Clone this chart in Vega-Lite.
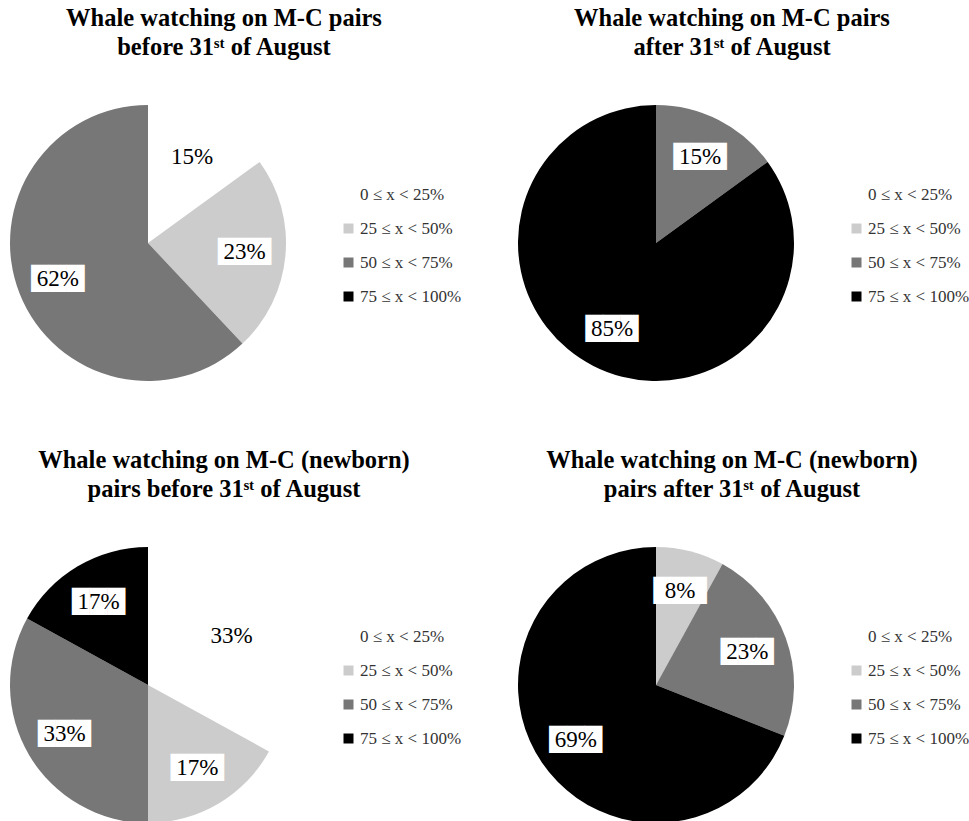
{
  "$schema": "https://vega.github.io/schema/vega-lite/v6.json",
  "padding": {"left": 10, "top": 5, "right": 0, "bottom": 0},
  "background": "white",
  "bounds": "flush",
  "datasets": {
    "pies": [
      {"panel": 1, "k": 0, "cat": "0 ≤ x < 25%", "value": 15},
      {"panel": 1, "k": 1, "cat": "25 ≤ x < 50%", "value": 23},
      {"panel": 1, "k": 2, "cat": "50 ≤ x < 75%", "value": 62},
      {"panel": 2, "k": 2, "cat": "50 ≤ x < 75%", "value": 15},
      {"panel": 2, "k": 3, "cat": "75 ≤ x < 100%", "value": 85},
      {"panel": 3, "k": 0, "cat": "0 ≤ x < 25%", "value": 33},
      {"panel": 3, "k": 1, "cat": "25 ≤ x < 50%", "value": 17},
      {"panel": 3, "k": 2, "cat": "50 ≤ x < 75%", "value": 33},
      {"panel": 3, "k": 3, "cat": "75 ≤ x < 100%", "value": 17},
      {"panel": 4, "k": 1, "cat": "25 ≤ x < 50%", "value": 8},
      {"panel": 4, "k": 2, "cat": "50 ≤ x < 75%", "value": 23},
      {"panel": 4, "k": 3, "cat": "75 ≤ x < 100%", "value": 69}
    ]
  },
  "columns": 2,
  "spacing": {"row": 166, "column": 232},
  "resolve": {"scale": {"color": "independent"}, "legend": {"color": "independent"}},
  "concat": [
    {
      "width": 276, "height": 276,
      "title": {"text": ["Whale watching on M-C pairs", "before  31ˢᵗ of August"]},
      "data": {"name": "pies"},
      "transform": [{"filter": "datum.panel === 1"}, {"calculate": "datum.value + '%'", "as": "label"}],
      "encoding": {
        "theta": {"field": "value", "type": "quantitative", "stack": true},
        "order": {"field": "k", "type": "quantitative"}
      },
      "layer": [
        {"mark": {"type": "arc"}, "encoding": {"color": {"field": "cat", "type": "nominal", "scale": {"domain": ["0 ≤ x < 25%", "25 ≤ x < 50%", "50 ≤ x < 75%", "75 ≤ x < 100%"], "range": ["#ffffff", "#cccccc", "#777777", "#000000"]}}}},
        {"mark": {"type": "text", "radius": 97, "text": "███", "font": "DejaVu Sans", "fontSize": 23, "color": "white", "align": "center", "baseline": "middle"}, "encoding": {"detail": {"field": "cat"}}},
        {"mark": {"type": "text", "radius": 97, "font": "Liberation Serif", "fontSize": 23, "color": "black", "align": "center", "baseline": "middle"}, "encoding": {"detail": {"field": "cat"}, "text": {"field": "label"}}}
      ]
    },
    {
      "width": 276, "height": 276,
      "title": {"text": ["Whale watching on M-C pairs", "after 31ˢᵗ of August"]},
      "data": {"name": "pies"},
      "transform": [{"filter": "datum.panel === 2"}, {"calculate": "datum.value + '%'", "as": "label"}],
      "encoding": {
        "theta": {"field": "value", "type": "quantitative", "stack": true},
        "order": {"field": "k", "type": "quantitative"}
      },
      "layer": [
        {"mark": {"type": "arc"}, "encoding": {"color": {"field": "cat", "type": "nominal", "scale": {"domain": ["0 ≤ x < 25%", "25 ≤ x < 50%", "50 ≤ x < 75%", "75 ≤ x < 100%"], "range": ["#ffffff", "#cccccc", "#777777", "#000000"]}}}},
        {"mark": {"type": "text", "radius": 97, "text": "███", "font": "DejaVu Sans", "fontSize": 23, "color": "white", "align": "center", "baseline": "middle"}, "encoding": {"detail": {"field": "cat"}}},
        {"mark": {"type": "text", "radius": 97, "font": "Liberation Serif", "fontSize": 23, "color": "black", "align": "center", "baseline": "middle"}, "encoding": {"detail": {"field": "cat"}, "text": {"field": "label"}}}
      ]
    },
    {
      "width": 276, "height": 276,
      "title": {"text": ["Whale watching on M-C (newborn)", "pairs before 31ˢᵗ of August"]},
      "data": {"name": "pies"},
      "transform": [{"filter": "datum.panel === 3"}, {"calculate": "datum.value + '%'", "as": "label"}],
      "encoding": {
        "theta": {"field": "value", "type": "quantitative", "stack": true},
        "order": {"field": "k", "type": "quantitative"}
      },
      "layer": [
        {"mark": {"type": "arc"}, "encoding": {"color": {"field": "cat", "type": "nominal", "scale": {"domain": ["0 ≤ x < 25%", "25 ≤ x < 50%", "50 ≤ x < 75%", "75 ≤ x < 100%"], "range": ["#ffffff", "#cccccc", "#777777", "#000000"]}}}},
        {"mark": {"type": "text", "radius": 97, "text": "███", "font": "DejaVu Sans", "fontSize": 23, "color": "white", "align": "center", "baseline": "middle"}, "encoding": {"detail": {"field": "cat"}}},
        {"mark": {"type": "text", "radius": 97, "font": "Liberation Serif", "fontSize": 23, "color": "black", "align": "center", "baseline": "middle"}, "encoding": {"detail": {"field": "cat"}, "text": {"field": "label"}}}
      ]
    },
    {
      "width": 276, "height": 276,
      "title": {"text": ["Whale watching on M-C (newborn)", "pairs after 31ˢᵗ of August"]},
      "data": {"name": "pies"},
      "transform": [{"filter": "datum.panel === 4"}, {"calculate": "datum.value + '%'", "as": "label"}],
      "encoding": {
        "theta": {"field": "value", "type": "quantitative", "stack": true},
        "order": {"field": "k", "type": "quantitative"}
      },
      "layer": [
        {"mark": {"type": "arc"}, "encoding": {"color": {"field": "cat", "type": "nominal", "scale": {"domain": ["0 ≤ x < 25%", "25 ≤ x < 50%", "50 ≤ x < 75%", "75 ≤ x < 100%"], "range": ["#ffffff", "#cccccc", "#777777", "#000000"]}}}},
        {"mark": {"type": "text", "radius": 97, "text": "███", "font": "DejaVu Sans", "fontSize": 23, "color": "white", "align": "center", "baseline": "middle"}, "encoding": {"detail": {"field": "cat"}}},
        {"mark": {"type": "text", "radius": 97, "font": "Liberation Serif", "fontSize": 23, "color": "black", "align": "center", "baseline": "middle"}, "encoding": {"detail": {"field": "cat"}, "text": {"field": "label"}}}
      ]
    }
  ],
  "config": {
    "view": {"stroke": null},
    "text": {"font": "Liberation Serif"},
    "title": {"font": "Liberation Serif", "fontSize": 24.5, "fontWeight": "bold", "color": "black", "anchor": "middle", "dx": 76, "offset": 45, "lineHeight": 29},
    "legend": {
      "orient": "none", "legendX": 330, "legendY": 81, "title": null, "padding": 0,
      "symbolType": "square", "symbolSize": 100, "symbolStrokeWidth": 0,
      "labelFont": "Liberation Serif", "labelFontSize": 17, "labelColor": "#333333",
      "labelOffset": 3, "rowPadding": 16
    }
  }
}
